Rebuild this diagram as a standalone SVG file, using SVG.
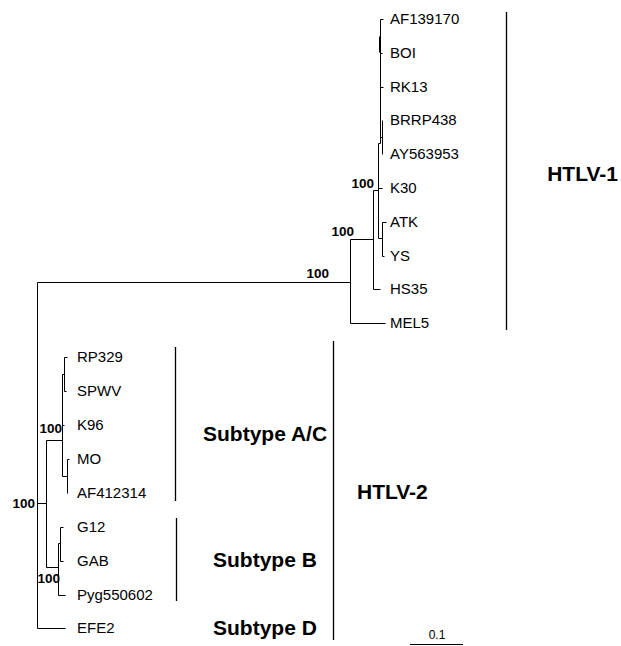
<svg xmlns="http://www.w3.org/2000/svg" width="621" height="646" viewBox="0 0 621 646">
<style>
.br{fill:none;stroke:#000;stroke-width:1}
.bar{fill:none;stroke:#000;stroke-width:1.3}
.leaf{font-family:"Liberation Sans",Arial,sans-serif;font-size:15px;fill:#000}
.bs{font-family:"Liberation Sans",Arial,sans-serif;font-size:13.5px;font-weight:bold;fill:#000;text-anchor:end}
.clade{font-family:"Liberation Sans",Arial,sans-serif;font-size:21px;font-weight:bold;fill:#000}
.scale{font-family:"Liberation Sans",Arial,sans-serif;font-size:12px;fill:#000;text-anchor:middle}
</style>
<rect width="621" height="646" fill="#fff"/>
<g id="connectors" class="br" transform="translate(0.5,0.5)">
<path d="M37,282V628M37,282H350M37,628H65M37,503H46"/>
<path d="M350,239V323M350,323H385M350,239H373M373,190V289M373,289H380M373,190H378M378,143V238M378,143H380M380,19V143M380,19H383M379,36V52M380,53H382M380,87H383M380,137H382M382,120V154M378,188H382M378,238H382M382,222V256M382,222H386M382,256H384"/>
<path d="M46,440V567M46,440H62M62,374V476M62,374H64M64,357V391M64,357H67M64,391H66M62,425H64M62,476H67M67,459V493M67,459H69M46,567H58M58,543V595M58,595H65M58,543H60M60,527V561M60,527H63M60,561H63"/>
</g>
<g id="leaves">
<g id="AF139170"><text class="leaf" x="390" y="24">AF139170</text></g>
<g id="BOI"><text class="leaf" x="390" y="58">BOI</text></g>
<g id="RK13"><text class="leaf" x="390" y="92">RK13</text></g>
<g id="BRRP438"><text class="leaf" x="390" y="125">BRRP438</text></g>
<g id="AY563953"><text class="leaf" x="390" y="159">AY563953</text></g>
<g id="K30"><text class="leaf" x="390" y="193">K30</text></g>
<g id="ATK"><text class="leaf" x="390" y="227">ATK</text></g>
<g id="YS"><text class="leaf" x="390" y="261">YS</text></g>
<g id="HS35"><text class="leaf" x="390" y="294">HS35</text></g>
<g id="MEL5"><text class="leaf" x="390" y="328">MEL5</text></g>
<g id="RP329"><text class="leaf" x="77" y="362">RP329</text></g>
<g id="SPWV"><text class="leaf" x="77" y="396">SPWV</text></g>
<g id="K96"><text class="leaf" x="77" y="430">K96</text></g>
<g id="MO"><text class="leaf" x="77" y="464">MO</text></g>
<g id="AF412314"><text class="leaf" x="77" y="498">AF412314</text></g>
<g id="G12"><text class="leaf" x="77" y="532">G12</text></g>
<g id="GAB"><text class="leaf" x="77" y="566">GAB</text></g>
<g id="Pyg550602"><text class="leaf" x="77" y="600">Pyg550602</text></g>
<g id="EFE2"><text class="leaf" x="77" y="633">EFE2</text></g>
</g>
<g id="bootstrap">
<text class="bs" x="329" y="278">100</text>
<text class="bs" x="354" y="236">100</text>
<text class="bs" x="374" y="188">100</text>
<text class="bs" x="62" y="433">100</text>
<text class="bs" x="35" y="508">100</text>
<text class="bs" x="60" y="583">100</text>
</g>
<g id="clades">
<g id="HTLV-1"><path class="bar" d="M506.5,12V330"/><text class="clade" x="618" y="180.5" text-anchor="end">HTLV-1</text></g>
<g id="HTLV-2"><path class="bar" d="M333.5,341V640"/><text class="clade" x="357" y="498.5">HTLV-2</text></g>
<g id="SubtypeAC"><path class="bar" d="M175.5,347V501"/><text class="clade" x="203" y="440.5">Subtype A/C</text></g>
<g id="SubtypeB"><path class="bar" d="M176.5,518V601"/><text class="clade" x="213" y="566.5">Subtype B</text></g>
<g id="SubtypeD"><text class="clade" x="213" y="634.5">Subtype D</text></g>
</g>
<g id="scalebar">
<path class="br" d="M410,644.5H463"/>
<text class="scale" x="437" y="639">0.1</text>
</g>
</svg>
